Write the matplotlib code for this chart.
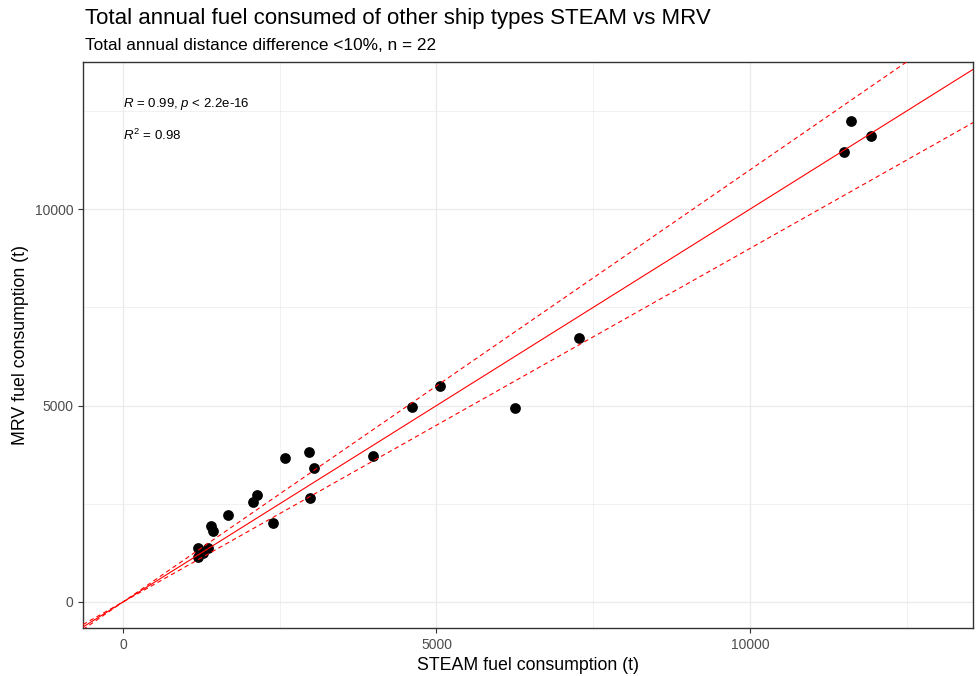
import numpy as np
import matplotlib
matplotlib.use("Agg")
import matplotlib.pyplot as plt

plt.rcParams["font.family"] = ["Liberation Sans", "DejaVu Sans"]
plt.rcParams["mathtext.fontset"] = "custom"
plt.rcParams["mathtext.rm"] = "Liberation Sans"
plt.rcParams["mathtext.it"] = "Liberation Sans:italic"

# STEAM vs MRV annual fuel consumption (t)
steam = [1196, 1196, 1356, 1276, 1403, 1435, 1675, 2073, 2137, 2392, 2584,
         2967, 3046, 2982, 3987, 4609, 5056, 6252, 7273, 11611, 11930, 11499]
mrv = [1374, 1145, 1374, 1247, 1934, 1807, 2214, 2545, 2723, 2010, 3664,
       3817, 3410, 2646, 3715, 4962, 5496, 4936, 6718, 12239, 11858, 11450]

xlim = (-638, 13557)
ylim = (-662, 13740)
major = [0, 5000, 10000]
minor = [2500, 7500, 12500]

fig = plt.figure(figsize=(9.76, 6.76), dpi=100)
ax = fig.add_axes([0.085, 0.071, 0.912, 0.837])

ax.set_xlim(xlim)
ax.set_ylim(ylim)
ax.set_xticks(major)
ax.set_yticks(major)
ax.set_xticks(minor, minor=True)
ax.set_yticks(minor, minor=True)
ax.grid(True, which="major", color="#ebebeb", lw=1.0, zorder=0)
ax.grid(True, which="minor", color="#ebebeb", lw=0.5, zorder=0)
ax.set_axisbelow(True)
ax.tick_params(which="minor", length=0)
ax.tick_params(which="major", length=3.5, width=0.8, color="#333333",
               labelcolor="#4d4d4d", labelsize=10)
for s in ax.spines.values():
    s.set_color("#333333")
    s.set_linewidth(1.0)

ax.scatter(steam, mrv, s=60, color="black", zorder=3, linewidths=0)

xx = np.array(xlim)
ax.plot(xx, xx, color="red", lw=0.8, zorder=4)
ax.plot(xx, 1.1 * xx, color="red", lw=0.8, ls=(0, (4, 3)), zorder=4)
ax.plot(xx, 0.9 * xx, color="red", lw=0.8, ls=(0, (4, 3)), zorder=4)

ax.text(0, 12680, r"$R$ = 0.99, $p$ < 2.2e-16", fontsize=9.5, va="center", ha="left")
ax.text(0, 11870, r"$R^2$ = 0.98", fontsize=9.5, va="center", ha="left")

ax.set_xlabel("STEAM fuel consumption (t)", fontsize=12.8, labelpad=4)
ax.set_ylabel("MRV fuel consumption (t)", fontsize=12.8, labelpad=4)

fig.text(0.087, 0.973, "Total annual fuel consumed of other ship types STEAM vs MRV",
         fontsize=16, va="center", ha="left")
fig.text(0.087, 0.932, "Total annual distance difference <10%, n = 22",
         fontsize=12.4, va="center", ha="left")

fig.savefig("out.png", dpi=100)
